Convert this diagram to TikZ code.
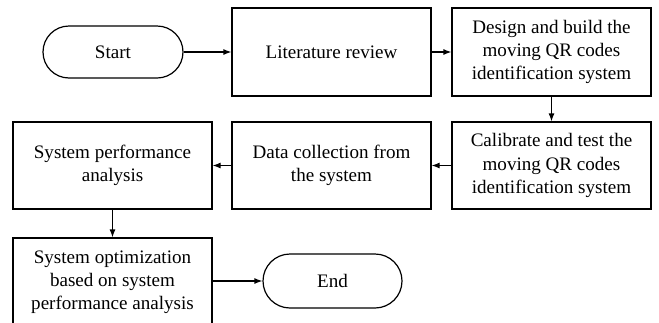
\documentclass[tikz,border=0pt]{standalone}
\usepackage{fontspec}
\setmainfont{Liberation Serif}
\usetikzlibrary{arrows.meta}
\begin{document}
\begin{tikzpicture}[x=0.75pt,y=-0.75pt,
  every node/.style={font=\fontsize{14.3pt}{17.4pt}\selectfont, align=center, inner sep=0pt},
  stepbox/.style={draw, line width=0.9pt, minimum width=149.25pt, minimum height=66pt},
  term/.style={draw, line width=0.9pt, rounded corners=19.5pt, minimum width=105pt, minimum height=39pt},
  arr/.style={line width=0.9pt, -{Latex[length=6pt,width=4.5pt]}}]
\useasboundingbox (0,0) rectangle (659,322);
\node[term] (start) at (113,52) {Start};
\node[stepbox] (lit) at (331.5,52) {Literature review};
\node[stepbox] (design) at (551.5,52) {Design and build the\\moving QR codes\\identification system};
\node[stepbox, minimum height=65.25pt] (calib) at (551.5,165.5) {Calibrate and test the\\moving QR codes\\identification system};
\node[stepbox, minimum height=65.25pt] (data) at (331.5,165.5) {Data collection from\\the system};
\node[stepbox, minimum height=65.25pt] (perf) at (112.5,165.5) {System performance\\analysis};
\node[stepbox] (opt) at (112.5,282) {System optimization\\based on system\\performance analysis};
\node[term, minimum width=104.25pt, minimum height=40.5pt, rounded corners=20.25pt] (end) at (332.5,281) {End};
\draw[arr] (start) -- (lit);
\draw[arr] (lit) -- (design);
\draw[arr] (design) -- (calib);
\draw[arr] (calib) -- (data);
\draw[arr] (data) -- (perf);
\draw[arr] (perf) -- (opt);
\draw[arr] (opt.east |- end.west) -- (end.west);
\end{tikzpicture}
\end{document}
